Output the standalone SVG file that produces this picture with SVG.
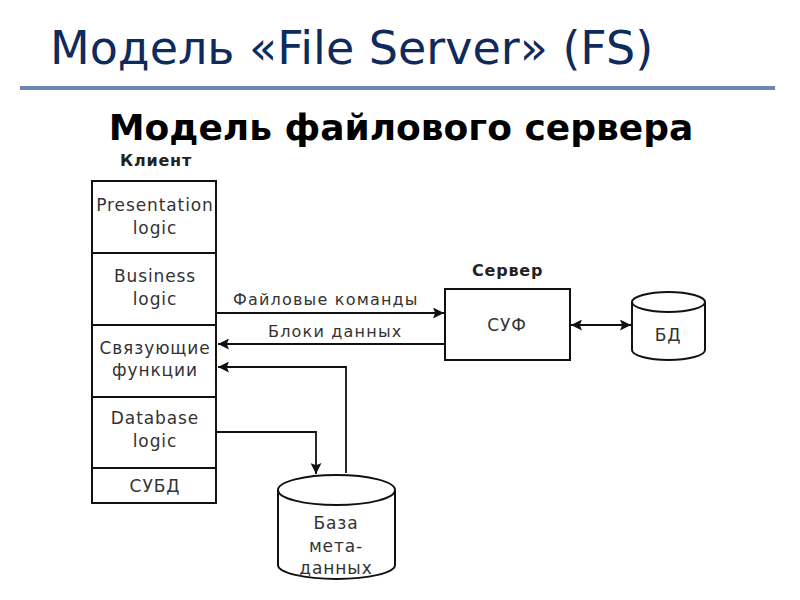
<svg xmlns="http://www.w3.org/2000/svg" width="800" height="600" viewBox="0 0 800 600">
<defs>
<style>
.title{font-family:"DejaVu Sans",sans-serif;font-size:46px;fill:#0f2a5c}
.sub{font-family:"DejaVu Sans",sans-serif;font-size:36px;font-weight:bold;fill:#000}
.hd{font-family:"DejaVu Sans",sans-serif;font-size:16px;font-weight:bold;fill:#222;letter-spacing:0.8px}
.t{font-family:"DejaVu Sans",sans-serif;font-size:17px;fill:#333;text-anchor:middle;letter-spacing:0.9px}
.lb{font-family:"DejaVu Sans",sans-serif;font-size:16px;fill:#333;letter-spacing:1.2px}
.box{fill:#fff;stroke:#111;stroke-width:2}
.ln{fill:none;stroke:#111;stroke-width:1.8}
</style>
<marker id="ah" viewBox="0 0 10 10" refX="10" refY="5" markerWidth="16" markerHeight="11" markerUnits="userSpaceOnUse" orient="auto-start-reverse">
<path d="M0,0 L10,5 L0,10 L2,5 z" fill="#111"/>
</marker>
</defs>
<rect width="800" height="600" fill="#fff"/>
<text class="title" x="50" y="64">Модель «File Server» (FS)</text>
<rect x="20" y="86" width="755" height="4" fill="#6a88b3"/>
<text class="sub" x="401" y="140" text-anchor="middle">Модель файлового сервера</text>

<g id="client">
<text class="hd" x="120" y="166">Клиент</text>
<rect class="box" x="92" y="181" width="124" height="322"/>
<line class="ln" x1="92" y1="253" x2="216" y2="253"/>
<line class="ln" x1="92" y1="325" x2="216" y2="325"/>
<line class="ln" x1="92" y1="397" x2="216" y2="397"/>
<line class="ln" x1="92" y1="468" x2="216" y2="468"/>
<text class="t" x="155" y="211">Presentation</text>
<text class="t" x="155" y="234">logic</text>
<text class="t" x="155" y="282">Business</text>
<text class="t" x="155" y="305">logic</text>
<text class="t" x="155" y="354">Связующие</text>
<text class="t" x="155" y="376">функции</text>
<text class="t" x="155" y="424">Database</text>
<text class="t" x="155" y="447">logic</text>
<text class="t" x="155" y="492">СУБД</text>
</g>

<g id="server">
<text class="hd" x="472" y="276">Сервер</text>
<rect class="box" x="445" y="289" width="125" height="71"/>
<text class="t" x="507" y="331">СУФ</text>
</g>

<g id="db">
<path class="box" d="M632,302 L632,350 A36.5,10 0 0 0 705,350 L705,302"/>
<ellipse class="box" cx="668.5" cy="302" rx="36.5" ry="10"/>
<text class="t" x="668" y="341">БД</text>
</g>

<g id="metadb">
<path class="box" d="M278,490 L278,565 A58.5,14 0 0 0 395,565 L395,490"/>
<ellipse class="box" cx="336.5" cy="490" rx="58.5" ry="15"/>
<text class="t" x="336" y="529">База</text>
<text class="t" x="336" y="552">мета-</text>
<text class="t" x="336" y="574">данных</text>
</g>

<g id="connectors">
<line class="ln" x1="216" y1="313" x2="444" y2="313" marker-end="url(#ah)"/>
<text class="lb" x="233" y="305">Файловые команды</text>
<line class="ln" x1="445" y1="344" x2="218" y2="344" marker-end="url(#ah)"/>
<text class="lb" x="268" y="337">Блоки данных</text>
<line class="ln" x1="571" y1="325" x2="631" y2="325" marker-start="url(#ah)" marker-end="url(#ah)"/>
<polyline class="ln" points="346,473 346,367 218,367" marker-end="url(#ah)"/>
<polyline class="ln" points="216,432 316,432 316,474" marker-end="url(#ah)"/>
</g>
</svg>
